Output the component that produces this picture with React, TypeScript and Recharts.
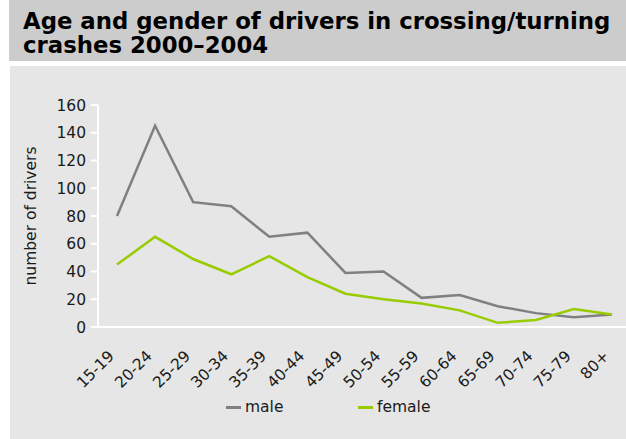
import { LineChart, Line, XAxis, YAxis } from 'recharts';

const ageGroups = ['15-19', '20-24', '25-29', '30-34', '35-39', '40-44', '45-49', '50-54', '55-59', '60-64', '65-69', '70-74', '75-79', '80+'];
const maleDrivers = [80, 145, 90, 87, 65, 68, 39, 40, 21, 23, 15, 10, 7, 9];
const femaleDrivers = [45, 65, 49, 38, 51, 36, 24, 20, 17, 12, 3, 5, 13, 9];
const yTicks = [0, 20, 40, 60, 80, 100, 120, 140, 160];
const seriesNames = ['male', 'female'];
const seriesColors = ['#808080', '#99cc00'];

const data = ageGroups.map((age, i) => ({ age, male: maleDrivers[i], female: femaleDrivers[i] }));

const FONT = '"DejaVu Sans", Verdana, sans-serif';
const TEXT = '#1a1a1a';

const XTick = ({ x, y, payload }: any) => (
  <text
    x={x - 2}
    y={y + 30}
    transform={`rotate(-45, ${x - 2}, ${y + 30})`}
    textAnchor="end"
    fontSize={15.5}
    fill={TEXT}
    fontFamily={FONT}
  >
    {payload.value}
  </text>
);

// legend drawn as plain html so it does not eat into the plot area
const legendLeft = [216, 348];

export default function App() {
  return (
    <div style={{ position: 'absolute', left: 0, top: 0, width: 626, height: 439, background: '#fff', overflow: 'hidden', fontFamily: FONT }}>
      <div
        style={{
          position: 'absolute', left: 9, top: 0, width: 617, height: 61, background: '#cccccc',
          boxSizing: 'border-box', padding: '9px 0 0 14px', fontWeight: 'bold', fontSize: 22.8, lineHeight: '24px', color: '#000',
          whiteSpace: 'nowrap',
        }}
      >
        Age and gender of drivers in crossing/turning<br />crashes 2000–2004
      </div>
      <div style={{ position: 'absolute', left: 10, top: 66, width: 616, height: 373, background: '#e6e6e6', overflow: 'hidden' }}>
        <LineChart width={621} height={373} data={data} margin={{ top: 39, right: 0, left: 0, bottom: 52 }}>
          <XAxis
            dataKey="age"
            stroke="#ffffff"
            strokeWidth={2}
            tickLine={false}
            tickSize={0}
            tickMargin={0}
            interval={0}
            padding={{ left: 19, right: 19 }}
            tick={<XTick />}
            height={60}
          />
          <YAxis
            domain={[0, 160]}
            ticks={yTicks}
            interval={0}
            width={88}
            stroke="#ffffff"
            strokeWidth={2}
            tickSize={7}
            tickMargin={5}
            tick={{ fill: TEXT, fontSize: 15.5, fontFamily: FONT }}
            label={{ value: 'number of drivers', angle: -90, position: 'center', dx: -24, fill: TEXT, fontSize: 15.5, fontFamily: FONT }}
          />
          <Line dataKey="male" name="male" stroke={seriesColors[0]} strokeWidth={2.5} dot={false} isAnimationActive={false} />
          <Line dataKey="female" name="female" stroke={seriesColors[1]} strokeWidth={2.5} dot={false} isAnimationActive={false} />
        </LineChart>
        {seriesNames.map((name, i) => (
          <div
            key={name}
            style={{
              position: 'absolute', left: legendLeft[i], top: 332, height: 18, display: 'flex', alignItems: 'center',
              fontSize: 15.5, color: TEXT, lineHeight: '18px',
            }}
          >
            <span style={{ display: 'inline-block', width: 15, height: 3, background: seriesColors[i], marginRight: 4 }} />
            {name}
          </div>
        ))}
      </div>
    </div>
  );
}
